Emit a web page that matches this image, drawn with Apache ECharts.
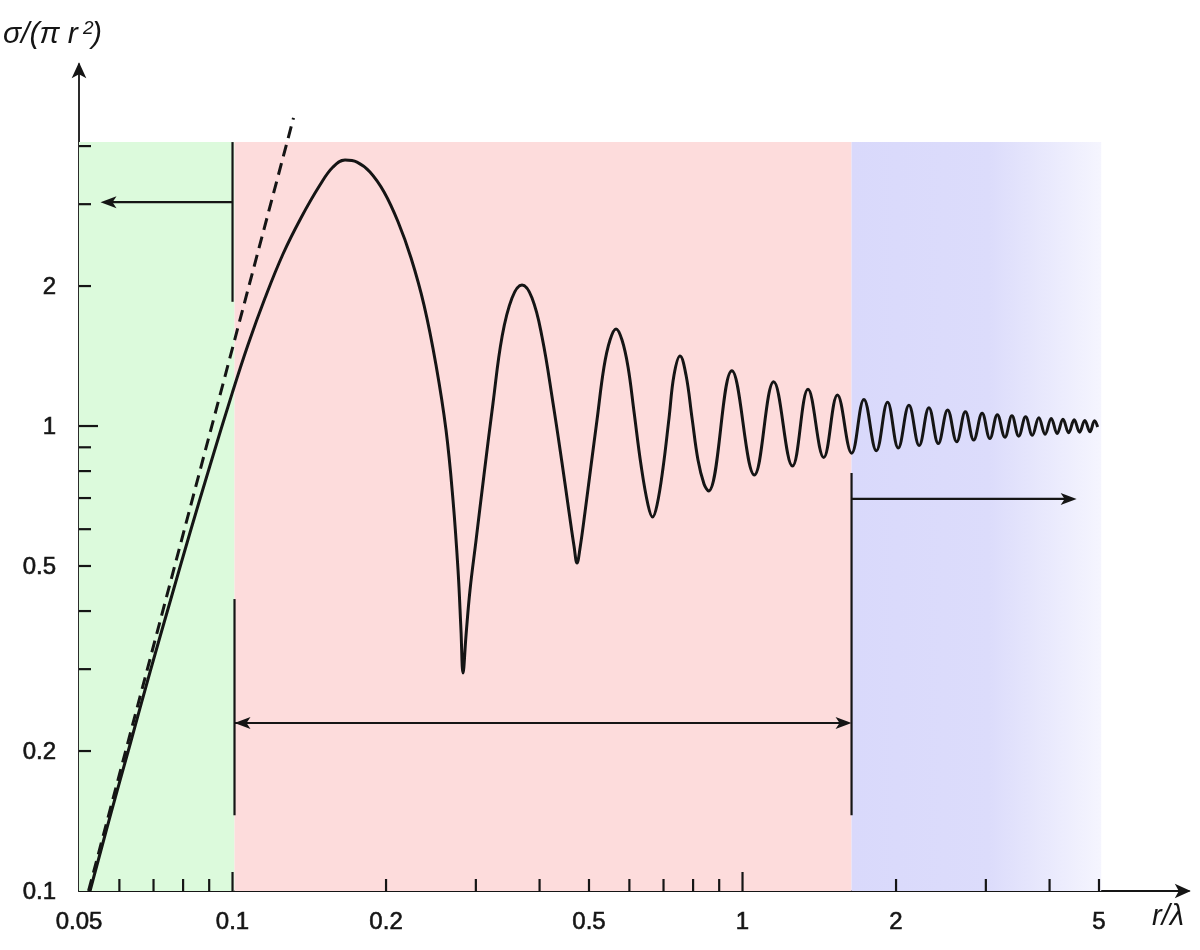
<!DOCTYPE html>
<html><head><meta charset="utf-8">
<script src="https://cdn.jsdelivr.net/npm/echarts@6/dist/echarts.min.js"></script>
<style>html,body{margin:0;padding:0;background:#fff}#c{width:1200px;height:950px}</style>
</head><body><div id="c"></div>
<script>
// ---- data ----
const solidX = [0.05255,0.0575,0.0630,0.0689,0.0755,0.0826,0.0904,0.1000,0.1072,0.1158,0.1256,0.1362,0.1484,0.1574,0.1662,0.1754,0.1860,0.1982,0.2112,0.2239,0.2374,0.2506,0.2622,0.2706,0.2768,0.2805,0.2831,0.2870,0.2922,0.3003,0.3112,0.3242,0.3376,0.3532,0.3695,0.3866,0.4045,0.4250,0.4427,0.4569,0.4673,0.4737,0.4802,0.4911,0.5045,0.5184,0.5350,0.5498,0.5649,0.5804,0.5964,0.6128,0.6324,0.6527,0.6662,0.6798,0.6984,0.7176,0.7340,0.7542,0.7748,0.7962,0.8179,0.8404,0.8577,
  0.953,1.055,1.151,1.253,1.344,1.443,1.535,1.637,
  1.73,1.83,1.925,2.02,2.12,2.22,2.32,2.42,2.525,2.63,2.735,2.84,2.95,3.055,3.16,3.27,3.375,3.48,3.59,3.70,3.81,3.92,4.03,4.14,4.25,4.36,4.47,4.58,4.69,4.80,4.90,4.97];
const solidY = [0.1000,0.1443,0.2071,0.2958,0.4204,0.5916,0.8244,1.183,1.494,1.885,2.344,2.802,3.298,3.606,3.733,3.696,3.518,3.186,2.746,2.298,1.820,1.353,0.9804,0.6932,0.4901,0.3642,0.2943,0.3552,0.4440,0.5685,0.7846,1.121,1.554,1.885,2.010,1.885,1.554,1.121,0.8326,0.6531,0.5519,0.5074,0.5465,0.6531,0.8204,1.030,1.339,1.531,1.617,1.531,1.339,1.072,0.8244,0.6763,0.6370,0.6763,0.8124,1.040,1.287,1.414,1.287,1.040,0.8451,0.7503,0.7247,
  1.315,0.785,1.245,0.820,1.199,0.856,1.166,0.874,
  1.141,0.885,1.125,0.897,1.108,0.908,1.095,0.917,1.083,0.925,1.073,0.933,1.065,0.940,1.058,0.946,1.052,0.951,1.047,0.955,1.042,0.960,1.038,0.964,1.034,0.967,1.031,0.970,1.028,0.972,1.026,0.995];
const dashedX = [0.0522, 0.1317];
const dashedY = [0.100, 4.60];

const xTickValues = [0.06,0.07,0.08,0.09,0.1,0.2,0.3,0.4,0.5,0.6,0.7,0.8,0.9,1,2,3,4,5];
const xLongTicks = [0.1, 1];
const xLabelValues = [0.05,0.1,0.2,0.5,1,2,5];
const xTickLabels = ['0.05','0.1','0.2','0.5','1','2','5'];
const yTickValues = [0.2,0.3,0.4,0.5,0.6,0.7,0.8,0.9,1,2,3,4];
const yLongTicks = [1];
const yLabelValues = [0.1,0.2,0.5,1,2];
const yTickLabels = ['0.1','0.2','0.5','1','2'];

const regionNames = ['Rayleigh','Mie','Optical'];
const regionStart = [0.05, 0.1009, 1.636];
const regionEnd = [0.1009, 1.636, 5.05];
const regionTop = 4.08;
const regionBottom = 0.1;

// boundary lines
const boundaryX1 = [0.1, 0.1009, 1.636];
const boundaryY1 = [4.08, 0.4245, 0.792];
const boundaryY2 = [1.85, 0.1455, 0.1455];
// arrows
const arrowX1 = [0.1, 0.1009, 1.636];
const arrowX2 = [0.0551, 1.636, 4.52];
const arrowY = [3.03, 0.2298, 0.697];
const arrowHeadStart = [0, 1, 0];
const arrowHeadEnd = [1, 1, 1];

const X_MIN = 0.05, X_MAX = 7.5, Y_MIN = 0.1, Y_MAX = 6.0;

// ---- chart ----
const chart = echarts.init(document.getElementById('c'), null, {renderer:'canvas'});
const INK = '#151515';
const FONT = 'Liberation Sans, Arial, sans-serif';

const regionFills = [
  '#dcfadc',
  '#fddcdc',
  new echarts.graphic.LinearGradient(0,0,1,0,[
    {offset:0, color:'#d9d9fb'},{offset:0.55, color:'#dcdcfb'},{offset:1, color:'#f5f5fe'}])
];

function pairs(xs, ys){ return xs.map((x,i)=>[x, ys[i]]); }
const labelStyle = {fill:INK, stroke:INK, lineWidth:0.6, font:'24px '+FONT};

const option = {
  backgroundColor:'#ffffff',
  animation:false,
  grid:{left:79, top:64.2, width:1109.8, height:826.8, containLabel:false},
  xAxis:{type:'log', logBase:10, min:X_MIN, max:X_MAX,
    axisLine:{show:true, onZero:false, symbol:['none','arrow'], symbolSize:[11,16], symbolOffset:[0,2],
      lineStyle:{color:INK, width:1.8}},
    axisTick:{show:false}, axisLabel:{show:false}, splitLine:{show:false}},
  yAxis:{type:'log', logBase:10, min:Y_MIN, max:Y_MAX,
    axisLine:{show:true, onZero:false, symbol:['none','arrow'], symbolSize:[11,16], symbolOffset:[0,2],
      lineStyle:{color:INK, width:1.8}},
    axisTick:{show:false}, axisLabel:{show:false}, splitLine:{show:false}},
  graphic:[
    {type:'text', left:3, top:20, style:{text:'σ/(π r', font:'italic 30px '+FONT, fill:INK}},
    {type:'text', left:83, top:19, style:{text:'2', font:'italic 19px '+FONT, fill:INK}},
    {type:'text', left:92, top:20, style:{text:')', font:'italic 30px '+FONT, fill:INK}},
    {type:'text', left:1152, top:902, style:{text:'r/λ', font:'italic 29px '+FONT, fill:INK}}
  ],
  series:[
    {type:'custom', name:'regions', z:1, silent:true,
      data: regionStart.map((s,i)=>[s, regionEnd[i], regionTop]),
      encode:{x:[0,1], y:2},
      renderItem:(params, api)=>{
        const a = api.coord([api.value(0), regionBottom]);
        const b = api.coord([api.value(1), api.value(2)]);
        return {type:'rect', shape:{x:a[0], y:b[1], width:b[0]-a[0], height:a[1]-b[1]},
          style:{fill:regionFills[params.dataIndex]}};
      }},
    {type:'line', name:'Rayleigh asymptote', z:3, data:pairs(dashedX, dashedY), showSymbol:false,
      lineStyle:{color:INK, width:3, type:[12,7]}},
    {type:'line', name:'σ/(πr²)', z:4, data:pairs(solidX, solidY), showSymbol:false, smooth:0.4,
      lineStyle:{color:INK, width:3}},
    {type:'custom', name:'boundaries', z:5, silent:true,
      data: boundaryX1.map((x,i)=>[x, boundaryY1[i], boundaryY2[i]]),
      encode:{x:0, y:[1,2]},
      renderItem:(params, api)=>{
        const a = api.coord([api.value(0), api.value(1)]);
        const b = api.coord([api.value(0), api.value(2)]);
        return {type:'line', shape:{x1:a[0], y1:a[1], x2:b[0], y2:b[1]}, style:{stroke:INK, lineWidth:2.2}};
      }},
    {type:'custom', name:'arrows', z:5, silent:true,
      data: arrowX1.map((x,i)=>[x, arrowX2[i], arrowY[i], arrowHeadStart[i], arrowHeadEnd[i]]),
      encode:{x:[0,1], y:2},
      renderItem:(params, api)=>{
        const a = api.coord([api.value(0), api.value(2)]);
        const b = api.coord([api.value(1), api.value(2)]);
        const dir = Math.sign(b[0]-a[0]);
        const L = 16, W = 6;
        const ch = [{type:'line', shape:{x1:a[0], y1:a[1], x2:b[0]-dir*6, y2:b[1]}, style:{stroke:INK, lineWidth:2.2}}];
        if (api.value(4)) ch.push({type:'polygon', shape:{points:[[b[0],b[1]],[b[0]-dir*L,b[1]-W],[b[0]-dir*(L-4),b[1]],[b[0]-dir*L,b[1]+W]]}, style:{fill:INK}});
        if (api.value(3)) ch.push({type:'polygon', shape:{points:[[a[0],a[1]],[a[0]+dir*L,a[1]-W],[a[0]+dir*(L-4),a[1]],[a[0]+dir*L,a[1]+W]]}, style:{fill:INK}});
        return {type:'group', children:ch};
      }},
    {type:'custom', name:'xTicks', z:6, silent:true,
      data: xTickValues.map(v=>[v, Y_MIN]), encode:{x:0, y:1},
      renderItem:(params, api)=>{
        const v = api.value(0);
        const p = api.coord([v, Y_MIN]);
        const len = xLongTicks.includes(v) ? 19 : 12;
        return {type:'line', shape:{x1:p[0], y1:p[1], x2:p[0], y2:p[1]-len}, style:{stroke:INK, lineWidth:2.2}};
      }},
    {type:'custom', name:'yTicks', z:6, silent:true,
      data: yTickValues.map(v=>[X_MIN, v]), encode:{x:0, y:1},
      renderItem:(params, api)=>{
        const v = api.value(1);
        const p = api.coord([X_MIN, v]);
        const len = yLongTicks.includes(v) ? 19 : 12;
        return {type:'line', shape:{x1:p[0], y1:p[1], x2:p[0]+len, y2:p[1]}, style:{stroke:INK, lineWidth:2.2}};
      }},
    {type:'custom', name:'xLabels', z:6, silent:true,
      data: xLabelValues.map((v,i)=>[v, Y_MIN, i]), encode:{x:0, y:1},
      renderItem:(params, api)=>{
        const p = api.coord([api.value(0), Y_MIN]);
        return {type:'text', x:p[0], y:p[1]+31, style:Object.assign({text:xTickLabels[params.dataIndex],
          align:'center', verticalAlign:'middle'}, labelStyle)};
      }},
    {type:'custom', name:'yLabels', z:6, silent:true,
      data: yLabelValues.map((v,i)=>[X_MIN, v, i]), encode:{x:0, y:1},
      renderItem:(params, api)=>{
        const p = api.coord([X_MIN, api.value(1)]);
        return {type:'text', x:p[0]-23, y:p[1]+1, style:Object.assign({text:yTickLabels[params.dataIndex],
          align:'right', verticalAlign:'middle'}, labelStyle)};
      }}
  ]
};
chart.setOption(option);
</script></body></html>
